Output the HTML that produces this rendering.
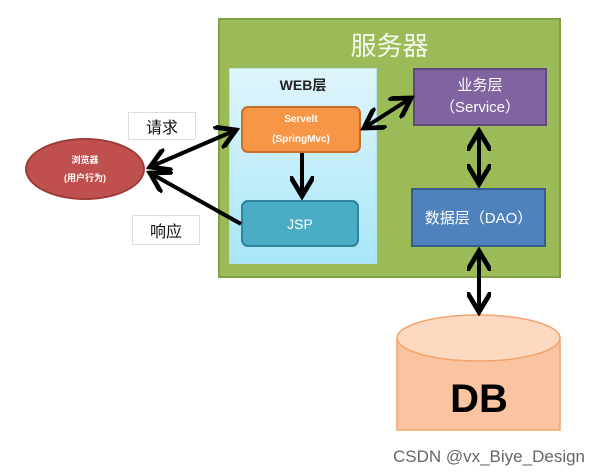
<!DOCTYPE html>
<html><head><meta charset="utf-8"><style>
body{margin:0;width:601px;height:476px;background:#fff;position:relative;overflow:hidden;font-family:"Liberation Sans","Noto Sans CJK SC",sans-serif}
.a{position:absolute;box-sizing:border-box;display:flex;align-items:center;justify-content:center;text-align:center;color:#fff}
</style></head><body>
<div class="a" style="left:218px;top:18px;width:343px;height:260px;background:#9bbb59;border:2px solid #7f9e45"></div>
<div class="a" style="left:218px;top:28px;width:343px;height:32px;font-size:26px;color:#f4f8ea;font-family:'Noto Sans CJK SC',sans-serif">服务器</div>
<div class="a" style="left:229px;top:68px;width:148px;height:196px;background:linear-gradient(#dff5fc,#a8e6f8);border:1px solid #b8e0ee"></div>
<div class="a" style="left:229px;top:74px;width:148px;height:22px;font-size:14px;font-weight:bold;color:#222">WEB层</div>
<div class="a" style="left:241px;top:106px;width:120px;height:47px;background:#f79646;border:2px solid #c6702e;border-radius:7px;font-size:10px;font-weight:bold;line-height:20px;flex-direction:column"><span>Servelt</span><span>(SpringMvc)</span></div>
<div class="a" style="left:241px;top:200px;width:118px;height:47px;background:#4bacc6;border:2px solid #31849b;border-radius:7px;font-size:14px">JSP</div>
<div class="a" style="left:413px;top:68px;width:134px;height:58px;background:#8064a2;border:2px solid #5f497a;font-size:15px;line-height:22px;flex-direction:column"><span>业务层</span><span>（Service）</span></div>
<div class="a" style="left:411px;top:188px;width:135px;height:59px;background:#4f81bd;border:2px solid #385d8a;font-size:15px">数据层（DAO）</div>
<div class="a" style="left:25px;top:138px;width:120px;height:62px;background:#c0504d;border:2px solid #9c3b38;border-radius:50%;font-size:9px;font-weight:bold;line-height:18px;flex-direction:column"><span>浏览器</span><span>(用户行为)</span></div>
<div class="a" style="left:128px;top:112px;width:68px;height:28px;border:1px solid #ddd;color:#111;font-size:16px">请求</div>
<div class="a" style="left:132px;top:215px;width:68px;height:30px;border:1px solid #ddd;color:#111;font-size:16px">响应</div>
<svg style="position:absolute;left:0;top:0" width="601" height="476">
<defs><marker id="m" markerWidth="6" markerHeight="6" refX="5" refY="3" orient="auto-start-reverse" markerUnits="strokeWidth"><path d="M0,0 L5,3 L0,6" fill="none" stroke="#000" stroke-width="1.2"/></marker></defs>
<path d="M397,338 L397,430 L560,430 L560,338" fill="#fac4a0" stroke="#f2a46e" stroke-width="1.5"/>
<ellipse cx="478.5" cy="338" rx="81.5" ry="23" fill="#fcd9c0" stroke="#f2a46e" stroke-width="1.5"/>
<text x="479" y="412" font-size="40" font-weight="bold" text-anchor="middle" font-family="Liberation Sans,sans-serif">DB</text>
<g stroke="#000" stroke-width="4" fill="none">
<line x1="150" y1="167" x2="236" y2="130" marker-start="url(#m)" marker-end="url(#m)"/>
<line x1="241" y1="224" x2="150" y2="173" marker-end="url(#m)"/>
<line x1="364" y1="128" x2="411" y2="98" marker-start="url(#m)" marker-end="url(#m)"/>
<line x1="302" y1="153" x2="302" y2="196" marker-end="url(#m)"/>
<line x1="479" y1="131" x2="479" y2="184" marker-start="url(#m)" marker-end="url(#m)"/>
<line x1="479" y1="251" x2="479" y2="312" marker-start="url(#m)" marker-end="url(#m)"/>
</g>
<text x="585" y="462" font-size="17" fill="#666" text-anchor="end" font-family="Liberation Sans,sans-serif">CSDN @vx_Biye_Design</text>
</svg>
</body></html>
